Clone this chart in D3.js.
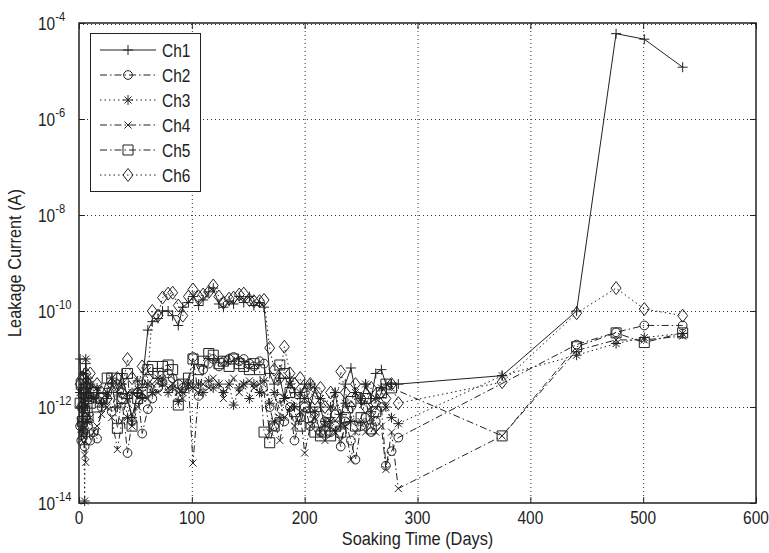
<!DOCTYPE html>
<html>
  <head>
    <meta charset="utf-8" />
    <script src="https://d3js.org/d3.v7.min.js"></script>
    <style>
      body { margin: 0; background: #fff; }
      text { font-family: "Liberation Sans", Arial, sans-serif; fill: #222; }
    </style>
  </head>
  <body>
    <div id="my_dataviz"></div>
    <script>
      // soaking time of every measurement (days)
      var days = [1, 2, 3, 4, 5, 6, 7, 8, 10, 13, 16, 20, 25, 29, 34, 38, 43, 47, 52, 56,
        61, 65, 70, 74, 79, 83, 88, 92, 97, 101, 106, 110, 115, 119, 124, 128, 133, 137, 142, 146,
        151, 155, 160, 164, 169, 173, 178, 182, 187, 191, 196, 200, 205, 209, 214, 218, 223, 227, 232, 236,
        241, 245, 250, 254, 259, 263, 268, 272, 277, 283, 375, 441, 476, 501, 535];

      // leakage current (A), one value per day, null = not measured
      var ch1 = [1e-11, 2e-12, 5e-13, 3e-12, 1e-12, 8e-12, 2e-12, 4e-12, 2e-12, 1.5e-12, 2e-12, 1e-12, 1.5e-12, 3e-12, 2e-12, 5e-12, 1.5e-12, 6e-13, 2e-12, 3e-12,
        4e-11, 6e-11, 7e-11, 1e-10, 1e-10, 8e-11, 5e-11, 1.2e-10, 1.5e-10, 2e-10, 1.3e-10, 1.7e-10, 2.5e-10, 3e-10, 1.4e-10, 1.2e-10, 1.6e-10, 1.4e-10, 2e-10, 1.5e-10,
        2e-10, 1.3e-10, 1.5e-10, 1.2e-10, 5e-12, 3e-12, 4e-12, 1.5e-12, 4e-12, 2e-12, 1.5e-12, 3e-12, 1e-12, 2.5e-12, 1e-12, 4e-13, 6e-13, 2e-12, 4e-13, 3e-12,
        6.5e-12, 2e-12, 1.2e-12, 3e-12, 1.5e-12, 5e-12, 6e-12, 3e-12, 3e-12, 3e-12, 4.5e-12, 1e-10, 6e-5, 4.6e-5, 1.2e-5];
      var ch2 = [4e-13, 2e-13, 1e-12, 3e-13, 1.5e-13, 6e-13, 2e-13, 4e-13, 2e-13, 3e-13, 2.2e-13, 1e-12, 2e-12, 8e-13, 3e-12, 1.5e-12, 1.1e-13, 5e-13, 2e-12, 2.8e-13,
        9e-13, 1.5e-12, 2.5e-12, 3.3e-12, 5e-12, 4e-12, 3e-12, 2.5e-12, 3e-12, 1.1e-11, 1.7e-12, 6e-12, 8e-12, 1e-11, 7e-12, 9e-12, 1e-11, 1.1e-11, 9e-12, 1e-11,
        8e-12, 7e-12, 9e-12, 8e-12, 1e-12, 4e-13, 1.5e-12, 5e-13, 1e-12, 2e-13, 6e-13, 1e-12, 4e-13, 7e-13, 3e-13, 5e-13, 3e-13, 4e-13, 1.5e-13, 5e-13,
        2e-13, 8e-14, 4e-13, 6e-13, 3e-13, 5e-13, 1e-12, 6e-14, 1.2e-13, 2.3e-13, null, 2e-11, 3.6e-11, 5e-11, 5e-11];
      var ch3 = [2e-12, 1e-12, 3e-13, 5e-12, 1.1e-14, 1e-11, 5e-13, 1.5e-12, 3e-12, 1.5e-12, 2.5e-12, 1.2e-12, 2e-12, 4e-12, 1e-12, 3e-12, 6e-13, 2e-12, 3.5e-12, 1.5e-12,
        3e-12, 2e-12, 4e-12, 3e-12, 2e-12, 2.5e-12, 1.3e-12, 2e-12, 3e-12, 2.5e-12, 3e-12, 2e-12, 3.5e-12, 2.5e-12, 3e-12, 2e-12, 3e-12, 1.1e-12, 2.5e-12, 3e-12,
        1.5e-12, 3e-12, 2e-12, 3.5e-12, 1.2e-12, 2e-12, 6e-13, 1.5e-12, 3e-12, 1e-12, 2e-12, 1.5e-12, 3e-12, 8e-13, 1.5e-12, 5e-13, 1e-12, 2e-12, 7e-13, 1.2e-12,
        5e-13, 2e-12, 1.5e-12, 3e-12, 8e-13, 1.5e-12, 2.5e-12, 1e-12, 6e-13, 4.5e-13, 4.5e-12, 1.2e-11, 2.1e-11, 2.8e-11, 3.4e-11];
      var ch4 = [5e-13, 2e-13, 1e-12, 3e-13, 1e-13, 7e-14, 5e-13, 1.5e-12, 6e-13, 3e-13, 4e-13, 7e-13, 1e-12, 6e-13, 1.3e-13, 5e-13, 2e-12, 4e-13, 1e-12, 2e-12,
        1.5e-12, 3e-12, 2e-12, 4e-12, 2.5e-12, 3e-12, 2e-12, 1.5e-12, 3e-12, 6.8e-14, 2e-12, 3e-12, 2.5e-12, 4e-12, 3e-12, 1.5e-12, 3e-12, 4e-12, 2e-12, 3e-12,
        3.5e-12, 2.5e-12, 3e-12, 2e-12, 3e-13, 5e-13, 2e-13, 6e-13, 1e-12, 4e-13, 8e-13, 1.1e-13, 4e-13, 6e-13, 3e-13, 2e-13, 5e-13, 3e-13, 2e-13, 4e-13,
        8e-14, 3e-13, 5e-13, 3e-13, 6e-13, 3e-13, 4e-13, 5e-14, 3e-13, 2e-14, 2.5e-13, 1.5e-11, 2.5e-11, 2.5e-11, 3e-11];
      var ch5 = [1.2e-12, 3e-12, 5e-13, 2e-12, 8e-13, 2.5e-12, 1.5e-12, 6e-13, 1.2e-12, 2e-12, 1e-12, 1.5e-12, 4e-12, 4e-12, 3.6e-13, 1.5e-12, 5e-12, 4e-13, 1.5e-12, 2e-12,
        6e-12, 7e-12, 5e-12, 7e-12, 7.5e-12, 6e-12, 1.1e-12, 3e-12, 4e-12, 1e-11, 6e-12, 9e-12, 1.3e-11, 1.2e-11, 8e-12, 9e-12, 7e-12, 1e-11, 8e-12, 7e-12,
        6e-12, 8e-12, 6e-12, 3e-13, 1.8e-13, 4e-13, 7.5e-12, 5e-12, 2e-12, 8e-13, 4e-13, 1e-12, 6e-13, 3e-13, 2.5e-13, 3e-13, 2.5e-13, 4e-13, 3e-13, 6e-13,
        1.3e-12, 4e-13, 6e-13, 1.5e-12, 3.5e-13, 8e-13, 2e-12, 3e-12, 2.5e-12, null, 2.5e-13, 1.8e-11, 3.5e-11, 2.2e-11, 3.5e-11];
      var ch6 = [3e-12, 1e-12, 4e-12, 2e-12, 6e-13, 5e-12, 1.5e-12, 3e-12, 5e-12, 2e-12, 3e-12, 2e-12, 1.5e-12, 3e-12, 4e-12, 2e-12, 1e-11, 4e-12, 2e-12, 7e-12,
        4e-12, 1e-10, 8e-11, 1.9e-10, 2.3e-10, 2.4e-10, 1.3e-10, 8e-11, 2e-10, 2.8e-10, 2e-10, 2.2e-10, 2.5e-10, 3.4e-10, 2e-10, 1.5e-10, 1.8e-10, 1.9e-10, 2.2e-10, 2.3e-10,
        1.7e-10, 1.6e-10, 1.6e-10, 1.7e-10, 1.7e-11, 6e-12, 4e-12, 1.8e-11, 5e-12, 3e-12, 4e-12, 2e-12, 3e-12, 1.5e-12, 2.5e-12, 1e-12, 2e-12, 7e-13, 5.5e-12, 2e-12,
        1e-12, 3e-12, 1.5e-12, 1e-12, 2.5e-12, 1.2e-12, 2e-12, 1.5e-12, 3e-12, 1.2e-12, 3.3e-12, 9e-11, 3e-10, 1.1e-10, 8e-11];

      var seriesNames = ["Ch1", "Ch2", "Ch3", "Ch4", "Ch5", "Ch6"];
      var xTicks = [0, 100, 200, 300, 400, 500, 600];
      var yTicks = [-14, -12, -10, -8, -6, -4];

      var W = 769, H = 553;
      var margin = { top: 23, right: 13, bottom: 50, left: 79 };
      var squeeze = 0.86; // the original font is narrow

      var svg = d3.select("#my_dataviz").append("svg")
        .attr("width", W).attr("height", H);

      // text drawn at (tx,ty), squeezed horizontally
      function label(tx, ty, size, anchor, rot) {
        return svg.append("g")
          .attr("transform", "translate(" + tx + "," + ty + ")" + (rot ? " rotate(" + rot + ")" : "") + " scale(" + squeeze + ",1)")
          .append("text").attr("text-anchor", anchor).style("font-size", size + "px");
      }

      var x = d3.scaleLinear().domain([0, 600]).range([margin.left, W - margin.right]);
      var y = d3.scaleLog().domain([1e-14, 1e-4]).range([H - margin.bottom, margin.top]);

      var ink = "#222";

      // grid (dotted)
      var grid = svg.append("g").attr("stroke", "#333").attr("stroke-width", 1).attr("stroke-dasharray", "1,3");
      xTicks.slice(1, -1).forEach(function (t) {
        grid.append("line").attr("x1", x(t) + 0.5).attr("x2", x(t) + 0.5)
          .attr("y1", y.range()[1]).attr("y2", y.range()[0]);
      });
      yTicks.slice(1).forEach(function (e) {
        var yy = Math.round(y(Math.pow(10, e))) + (e === -4 ? 1.5 : 0.5);
        grid.append("line").attr("x1", x.range()[0]).attr("x2", x.range()[1])
          .attr("y1", yy).attr("y2", yy);
      });

      // markers
      var markerPath = {
        plus: "M-5,0H5M0,-5V5",
        circle: d3.symbol().type(d3.symbolCircle).size(60)(),
        star: "M-5,0H5M0,-5V5M-3.5,-3.5L3.5,3.5M-3.5,3.5L3.5,-3.5",
        cross: "M-3.5,-3.5L3.5,3.5M-3.5,3.5L3.5,-3.5",
        square: "M-5,-5H5V5H-5Z",
        diamond: "M0,-6.5L5,0L0,6.5L-5,0Z"
      };

      var series = [
        { name: "Ch1", values: ch1, dash: null, marker: "plus" },
        { name: "Ch2", values: ch2, dash: "7,3,1.5,3", marker: "circle" },
        { name: "Ch3", values: ch3, dash: "1.5,3", marker: "star" },
        { name: "Ch4", values: ch4, dash: "7,3,1.5,3", marker: "cross" },
        { name: "Ch5", values: ch5, dash: "7,3,1.5,3", marker: "square" },
        { name: "Ch6", values: ch6, dash: "1.5,3", marker: "diamond" }
      ];

      var line = d3.line().x(function (d) { return x(d[0]); }).y(function (d) { return y(d[1]); });

      series.forEach(function (s) {
        var pts = days.map(function (d, i) { return [d, s.values[i]]; })
          .filter(function (p) { return p[1] != null; });
        var g = svg.append("g");
        g.append("path").datum(pts).attr("d", line)
          .attr("fill", "none").attr("stroke", ink).attr("stroke-width", 1)
          .attr("stroke-dasharray", s.dash);
        g.selectAll("path.m").data(pts).enter().append("path")
          .attr("class", "m")
          .attr("transform", function (d) { return "translate(" + x(d[0]) + "," + y(d[1]) + ")"; })
          .attr("d", markerPath[s.marker])
          .attr("fill", "none").attr("stroke", ink).attr("stroke-width", 1);
      });

      // frame + inward ticks on all sides
      var x0 = x.range()[0], x1 = x.range()[1], y0 = y.range()[0], y1 = y.range()[1];
      svg.append("rect").attr("x", x0).attr("y", y1).attr("width", x1 - x0).attr("height", y0 - y1)
        .attr("fill", "none").attr("stroke", ink).attr("stroke-width", 1.5);
      var ticks = svg.append("g").attr("stroke", ink).attr("stroke-width", 1);
      xTicks.forEach(function (t) {
        var xx = x(t) + 0.5;
        ticks.append("line").attr("x1", xx).attr("x2", xx).attr("y1", y0).attr("y2", y0 - 6);
        ticks.append("line").attr("x1", xx).attr("x2", xx).attr("y1", y1).attr("y2", y1 + 6);
        label(x(t), y0 + 21, 18, "middle").text(t);
      });
      yTicks.forEach(function (e) {
        var yy = y(Math.pow(10, e)) + 0.5;
        ticks.append("line").attr("x1", x0).attr("x2", x0 + 6).attr("y1", yy).attr("y2", yy);
        ticks.append("line").attr("x1", x1).attr("x2", x1 - 6).attr("y1", yy).attr("y2", yy);
        var t = label(38, yy + 6, 18, "start");
        t.append("tspan").text("10");
        t.append("tspan").attr("dy", -9).style("font-size", "13px").text(e);
      });

      // axis labels
      label((x0 + x1) / 2, H - 8, 19, "middle").text("Soaking Time (Days)");
      label(21, (y0 + y1) / 2, 19, "middle", -90).text("Leakage Current (A)");

      // legend
      var leg = svg.append("g");
      leg.append("rect").attr("x", 90.5).attr("y", 33.5).attr("width", 110).attr("height", 158)
        .attr("fill", "#fff").attr("stroke", ink).attr("stroke-width", 1);
      series.forEach(function (s, i) {
        var ly = 50 + i * 25;
        leg.append("line").attr("x1", 100).attr("x2", 156).attr("y1", ly).attr("y2", ly)
          .attr("stroke", ink).attr("stroke-width", 1).attr("stroke-dasharray", s.dash);
        leg.append("path").attr("transform", "translate(128," + ly + ")").attr("d", markerPath[s.marker])
          .attr("fill", "none").attr("stroke", ink).attr("stroke-width", 1);
        label(162, ly + 6.5, 18, "start").text(seriesNames[i]);
      });
    </script>
  </body>
</html>
